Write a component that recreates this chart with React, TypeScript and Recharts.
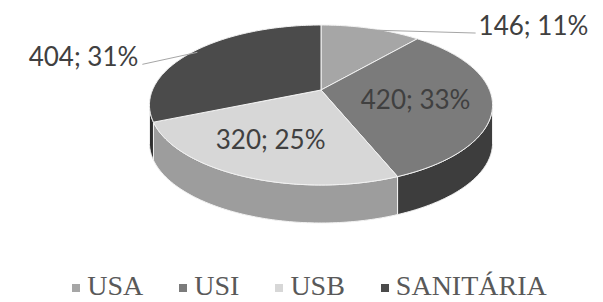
import React from "react";
import { PieChart, Pie, Legend } from "recharts";

// categories and values
const names = ["USA", "USI", "USB", "SANITÁRIA"];
const values = [146, 420, 320, 404];

const topColors = ["#a6a6a6", "#7b7b7b", "#d7d7d7", "#4b4b4b"];
const sideColors = ["#7c7c7c", "#3d3d3d", "#9d9d9d", "#2f2f2f"];
const textColor = "#404040";
const lineColor = "#a6a6a6";

const data = names.map((name, i) => ({ name, value: values[i] }));

// fake 3D: perspective tilt, vertical squash, wall height
const TILT = 0.1875;
const SQUASH = 0.458;
const DEPTH = 38;
const SILHOUETTE = (Math.acos(-TILT) * 180) / Math.PI;

// outside labels (offsets from the slice's outer edge point)
const outside: Record<number, { dx: number; dy: number; anchor: "start" | "end" }> = {
  0: { dx: 109, dy: 5, anchor: "start" },
  3: { dx: -59, dy: 14, anchor: "end" }
};

function SliceLabel(props: any) {
  const { cx, cy, outerRadius, startAngle, endAngle, midAngle, index, value, percent } = props;
  const ry = outerRadius * SQUASH;

  // theta: degrees clockwise from 12 o'clock
  const pt = (theta: number, frac = 1, drop = 0) => {
    const t = (theta * Math.PI) / 180;
    const X = Math.sin(t) * frac;
    const Z = Math.cos(t) * frac;
    const d = 1 + TILT * Z;
    return [cx + (outerRadius * X) / d, cy - (ry * Z) / d + drop];
  };
  const arc = (a: number, b: number, drop: number) => {
    const n = Math.max(2, Math.ceil(Math.abs(b - a)));
    const pts: number[][] = [];
    for (let k = 0; k <= n; k++) pts.push(pt(a + ((b - a) * k) / n, 1, drop));
    return pts;
  };
  const toPath = (pts: number[][]) =>
    "M" + pts.map(p => `${p[0].toFixed(2)},${p[1].toFixed(2)}`).join(" L") + " Z";

  const t1 = 90 - startAngle;
  const t2 = 90 - endAngle;
  const lo = Math.max(t1, SILHOUETTE);
  const hi = Math.min(t2, 360 - SILHOUETTE);

  const side = hi > lo ? toPath([...arc(lo, hi, 0), ...arc(hi, lo, DEPTH)]) : null;
  const top = toPath([[cx, cy], ...arc(t1, t2, 0)]);

  const text = `${value}; ${Math.round(percent * 100)}%`;
  const mid = 90 - midAngle;
  let labelEl;
  if (outside[index]) {
    const o = outside[index];
    const e = pt(mid, 0.97);
    const tx = e[0] + o.dx;
    const ty = e[1] + o.dy;
    const lx = o.anchor === "start" ? tx - 3 : tx + 4;
    labelEl = (
      <g>
        <polyline
          points={`${e[0]},${e[1]} ${lx},${ty - 2}`}
          fill="none"
          stroke={lineColor}
          strokeWidth={1}
        />
        <text x={tx} y={ty} textAnchor={o.anchor} fill={textColor} fontSize={26}
          fontFamily="Lato, 'Open Sans', sans-serif">
          {text}
        </text>
      </g>
    );
  } else {
    const c = pt(mid, 0.6);
    labelEl = (
      <text x={c[0] - 7} y={c[1] + 11} textAnchor="middle" fill={textColor} fontSize={26}
        fontFamily="Lato, 'Open Sans', sans-serif">
        {text}
      </text>
    );
  }

  return (
    <g>
      {side && <path d={side} fill={sideColors[index]} stroke="#f2f2f2" strokeWidth={1} strokeLinejoin="round" />}
      <path d={top} fill={topColors[index]} stroke="#f2f2f2" strokeWidth={1} strokeLinejoin="round" />
      {labelEl}
    </g>
  );
}

function renderLegend({ payload }: any) {
  const items = [...(payload || [])].sort(
    (a: any, b: any) => names.indexOf(a.value) - names.indexOf(b.value)
  );
  return (
    <div
      style={{
        display: "flex",
        justifyContent: "center",
        paddingLeft: 16,
        fontFamily: "'Liberation Serif', serif",
        fontSize: 28,
        lineHeight: "32px",
        color: "#595959"
      }}
    >
      {items.map((entry: any, i: number) => (
        <span key={entry.value} style={{ marginRight: i < items.length - 1 ? 36 : 0, whiteSpace: "nowrap" }}>
          <span
            style={{
              display: "inline-block",
              width: 8,
              height: 8,
              background: topColors[names.indexOf(entry.value)],
              marginRight: 7,
              marginBottom: 3
            }}
          />
          {entry.value}
        </span>
      ))}
    </div>
  );
}

export default function App() {
  return (
    <div style={{ position: "absolute", left: 0, top: 0, width: 603, height: 302, background: "#fff" }}>
      <PieChart width={603} height={302} margin={{ top: 0, right: 0, bottom: 0, left: 0 }}>
        <Pie
          data={data}
          dataKey="value"
          nameKey="name"
          cx={321}
          cy={90}
          outerRadius={168.5}
          startAngle={90}
          endAngle={-270}
          fill="none"
          stroke="none"
          label={SliceLabel}
          labelLine={false}
          isAnimationActive={false}
        />
        <Legend
          verticalAlign="bottom"
          content={renderLegend}
          wrapperStyle={{ position: "absolute", left: 0, top: 270, width: 603, height: 32 }}
        />
      </PieChart>
    </div>
  );
}
